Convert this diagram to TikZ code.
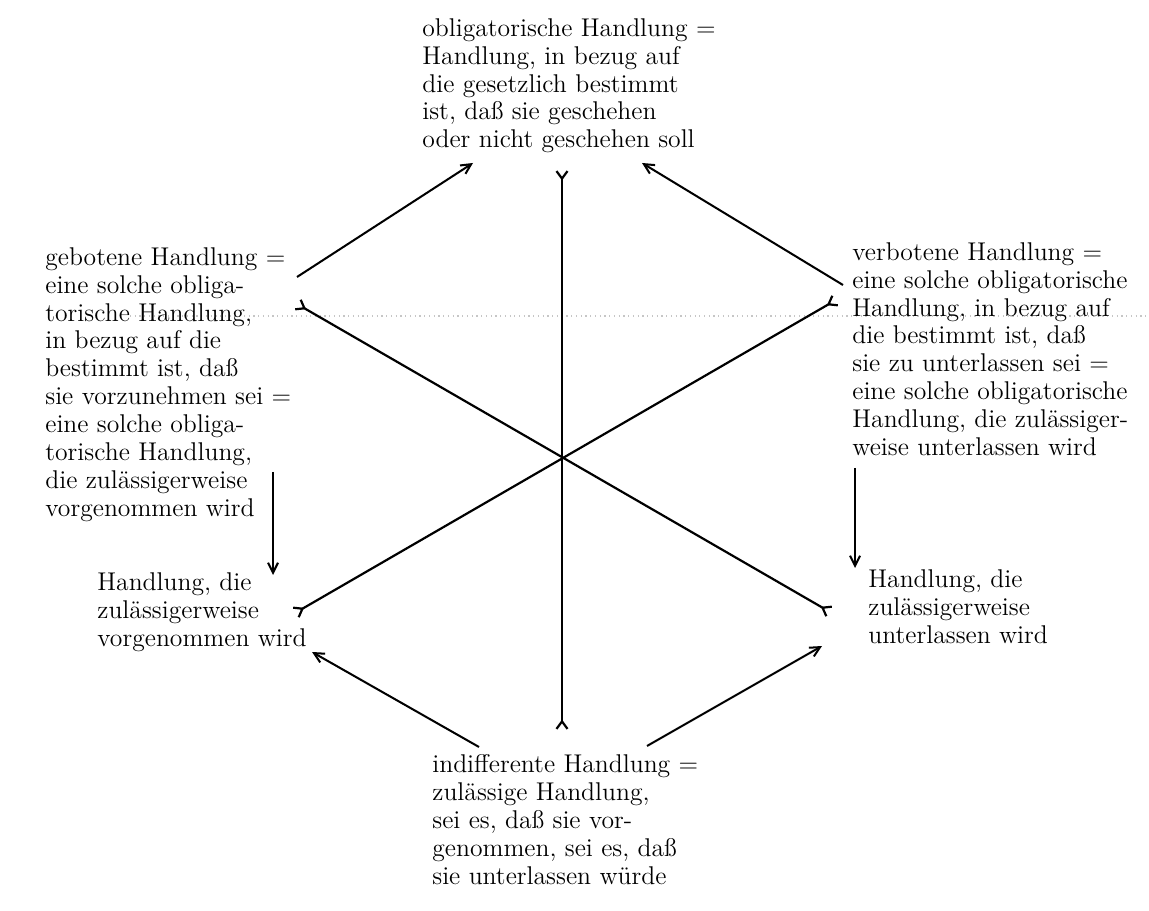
\documentclass[tikz,border=0pt]{standalone}
\usepackage{fontspec}
\usepackage{tikz}
\usetikzlibrary{calc,positioning}
\usetikzlibrary{arrows.meta}
\tikzset{>={Straight Barb[width=2mm,length=2mm]}}

\begin{document}
\begin{tikzpicture}[x=0.02cm,y=-0.02cm]
      \tikzstyle{tnode} = [inner sep=0pt, anchor=north west, align=left, font=\fontsize{14.6}{15.9}\selectfont]
      \tikzstyle{arm} = [line width=1.25pt, {Straight Barb[reversed,width=2.2mm,length=1.5mm]}-{Straight Barb[reversed,width=2.2mm,length=1.5mm]}]
      \tikzstyle{link} = [line width=1.15pt, ->]
      \useasboundingbox (0,0) rectangle (1149,911);

      % faint dotted rule of the page
      \draw[gray!45, dotted, line width=0.7pt] (130,316) -- (1149,316);

      \node[tnode] (obl) at (422,18) {obligatorische Handlung =\\Handlung, in bezug auf\\die gesetzlich bestimmt\\ist, daß sie geschehen\\oder nicht geschehen soll};
      \node[tnode] (geb) at (45,247) {gebotene Handlung =\\eine solche obliga-\\torische Handlung,\\in bezug auf die\\bestimmt ist, daß\\sie vorzunehmen sei =\\eine solche obliga-\\torische Handlung,\\die zulässigerweise\\vorgenommen wird};
      \node[tnode] (verb) at (852,242) {verbotene Handlung =\\eine solche obligatorische\\Handlung, in bezug auf\\die bestimmt ist, daß\\sie zu unterlassen sei =\\eine solche obligatorische\\Handlung, die zulässiger-\\weise unterlassen wird};
      \node[tnode] (vorg) at (97,572) {Handlung, die\\zulässigerweise\\vorgenommen wird};
      \node[tnode] (unt) at (868,569) {Handlung, die\\zulässigerweise\\unterlassen wird};
      \node[tnode] (ind) at (432,754) {indifferente Handlung =\\zulässige Handlung,\\sei es, daß sie vor-\\genommen, sei es, daß\\sie unterlassen würde};

      \coordinate (n) at (562,170);
      \coordinate (s) at (562,730);
      \coordinate (nw) at (297,304);
      \coordinate (se) at (830,612);
      \coordinate (sw) at (295,613);
      \coordinate (ne) at (836,300);

      \draw[arm] (n) -- (s);
      \draw[arm] (nw) -- (se);
      \draw[arm] (sw) -- (ne);

      \draw[link] ($(geb.north west)+(252,30)$) -- ($(obl.north west)+(51,145)$);
      \draw[link] ($(verb.north west)+(-9,43)$) -- ($(obl.north west)+(220,145)$);
      \draw[link] ($(ind.north west)+(47,-7)$) -- ($(vorg.north west)+(215,80)$);
      \draw[link] ($(ind.north west)+(215,-8)$) -- ($(unt.north west)+(-46,77)$);
      \draw[link] ($(geb.north west)+(228,225)$) -- ($(vorg.north west)+(176,3)$);
      \draw[link] ($(verb.north west)+(3,226)$) -- ($(unt.north west)+(-13,-1)$);
    \end{tikzpicture}
\end{document}
